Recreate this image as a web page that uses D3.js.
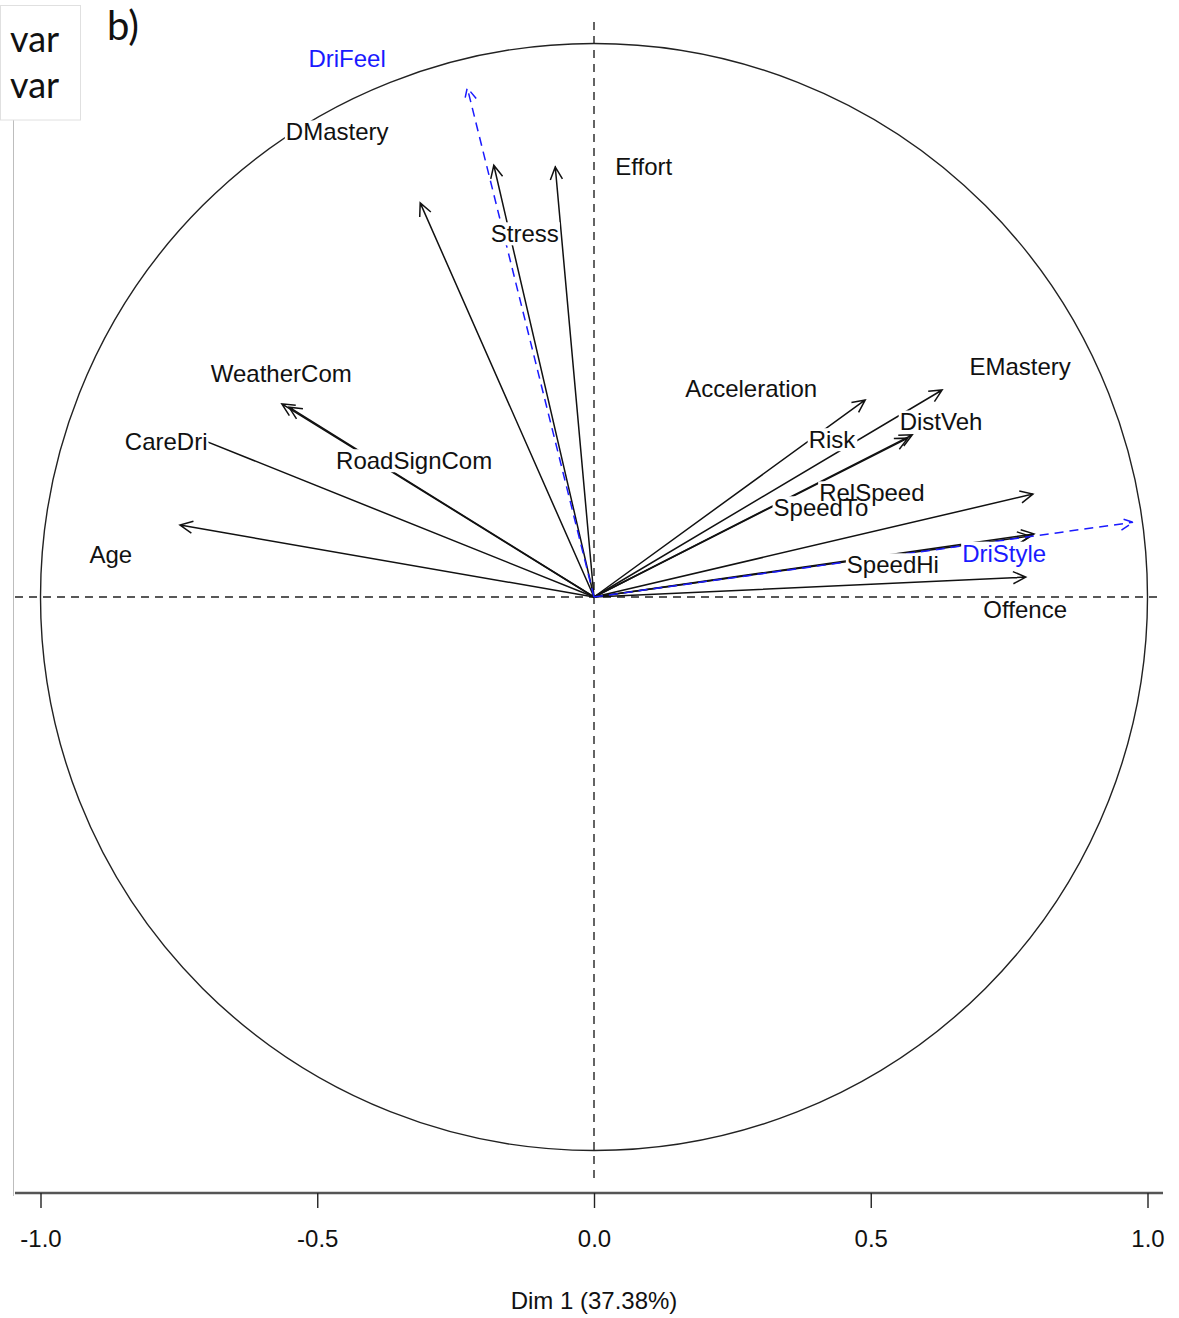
<!DOCTYPE html>
<html>
<head>
<meta charset="utf-8">
<script src="https://cdn.jsdelivr.net/npm/d3@7"></script>
<style>
  html, body { margin: 0; padding: 0; background: #fff; }
  svg { display: block; }
</style>
</head>
<body>
<svg id="chart" width="1179" height="1318"></svg>
<script>
// ---- data (coordinates on Dim 1 / Dim 2, correlation circle) ----
const varNames = ["DMastery","Stress","Effort","WeatherCom","RoadSignCom","CareDri","Age",
  "Acceleration","EMastery","Risk","DistVeh","RelSpeed","SpeedTo","SpeedHi","Offence",
  "DriFeel","DriStyle"];
const dim1 = [-0.314,-0.181,-0.070,-0.564,-0.551,-0.730,-0.748,
  0.490,0.629,0.567,0.575,0.793,0.795,0.788,0.780,
  -0.229,0.974];
const dim2 = [0.712,0.780,0.777,0.349,0.343,0.293,0.130,
  0.356,0.374,0.287,0.293,0.186,0.114,0.110,0.036,
  0.920,0.135];
// label anchor positions (repelled), in the same units
const labelX = [-0.464,-0.125,0.090,-0.565,-0.325,-0.773,-0.873,
  0.284,0.770,0.430,0.627,0.502,0.410,0.540,0.779,
  -0.446,0.741];
const labelY = [0.840,0.656,0.777,0.403,0.246,0.280,0.076,
  0.376,0.416,0.284,0.316,0.188,0.161,0.058,-0.023,
  0.972,0.079];
const varType = ["active","active","active","active","active","active","active",
  "active","active","active","active","active","active","active","active",
  "supp","supp"];
const xTicks = [-1.0,-0.5,0.0,0.5,1.0];
const xTitle = "Dim 1 (37.38%)";
const panelTag = "b)";
const legendLines = ["var","var"];

// ---- drawing ----
const svg = d3.select("#chart");
const x = d3.scaleLinear().domain([-1, 1]).range([40.5, 1147.5]);
const y = d3.scaleLinear().domain([-1, 1]).range([1150.5, 43.5]);
const R = x(1) - x(0);
const labelFont = "'Liberation Sans', Arial, Helvetica, sans-serif";

// frame remnants (left border line, top-left legend box)
svg.append("line").attr("x1", 13.5).attr("x2", 13.5).attr("y1", 120).attr("y2", 1196)
  .attr("stroke", "#bdbdbd").attr("stroke-width", 1);
svg.append("line").attr("x1", 0).attr("x2", 14).attr("y1", 5.5).attr("y2", 5.5)
  .attr("stroke", "#cfcfcf").attr("stroke-width", 1);
svg.append("rect").attr("x", 0.5).attr("y", 5.5).attr("width", 80).attr("height", 114.5)
  .attr("fill", "#fff").attr("stroke", "#e0e0e0").attr("stroke-width", 1);
svg.append("g").selectAll("text").data(legendLines).join("text")
  .attr("x", 10).attr("y", (d, i) => 52 + i * 46)
  .attr("font-family", "Lato, 'Open Sans', sans-serif").attr("font-size", 36)
  .attr("fill", "#111").text(d => d);
svg.append("text").attr("x", 107).attr("y", 40)
  .attr("font-family", "Lato, 'Open Sans', sans-serif").attr("font-size", 40)
  .attr("fill", "#111").text(panelTag);

// reference dashed axes
svg.append("line").attr("x1", x(0)).attr("x2", x(0)).attr("y1", 22).attr("y2", 1180)
  .attr("stroke", "#222").attr("stroke-width", 1.4).attr("stroke-dasharray", "8,6");
svg.append("line").attr("x1", 15).attr("x2", 1160).attr("y1", y(0)).attr("y2", y(0))
  .attr("stroke", "#222").attr("stroke-width", 1.4).attr("stroke-dasharray", "8,6");

// correlation circle
svg.append("circle").attr("cx", x(0)).attr("cy", y(0)).attr("r", R)
  .attr("fill", "none").attr("stroke", "#222").attr("stroke-width", 1.4);

// arrows
const vars = varNames.map((n, i) => ({name: n, d1: dim1[i], d2: dim2[i], lx: labelX[i], ly: labelY[i], type: varType[i]}));
const headLen = 14, headAng = Math.PI / 7;
function arrowPath(d) {
  const x0 = x(0), y0 = y(0), x1 = x(d.d1), y1 = y(d.d2);
  const a = Math.atan2(y1 - y0, x1 - x0);
  const p1 = [x1 - headLen * Math.cos(a - headAng), y1 - headLen * Math.sin(a - headAng)];
  const p2 = [x1 - headLen * Math.cos(a + headAng), y1 - headLen * Math.sin(a + headAng)];
  return `M${x0},${y0}L${x1},${y1}M${p1[0]},${p1[1]}L${x1},${y1}L${p2[0]},${p2[1]}`;
}
svg.append("g").selectAll("path").data(vars).join("path")
  .attr("d", arrowPath)
  .attr("fill", "none")
  .attr("stroke", d => d.type === "supp" ? "#1a1aff" : "#111")
  .attr("stroke-width", 1.5)
  .attr("stroke-dasharray", d => d.type === "supp" ? "9,6" : null);

// labels with white backing
const lg = svg.append("g");
const texts = lg.selectAll("text").data(vars).join("text")
  .attr("x", d => x(d.lx)).attr("y", d => y(d.ly))
  .attr("text-anchor", "middle").attr("dy", "0.35em")
  .attr("font-family", labelFont).attr("font-size", 24)
  .attr("fill", d => d.type === "supp" ? "#1a1aff" : "#111")
  .text(d => d.name);
const boxes = [];
texts.each(function() { boxes.push(this.getBBox()); });
lg.insert("g", ":first-child").selectAll("rect").data(boxes).join("rect")
  .attr("x", b => b.x - 1).attr("y", b => b.y + 2).attr("width", b => b.width + 2).attr("height", b => b.height - 4)
  .attr("fill", "#fff");

// bottom axis
const axisY = 1193;
svg.append("line").attr("x1", 15).attr("x2", 1163).attr("y1", axisY).attr("y2", axisY)
  .attr("stroke", "#555").attr("stroke-width", 2.5);
const fmt = d3.format(".1f");
const ax = svg.append("g").attr("transform", `translate(0,${axisY})`)
  .call(d3.axisBottom(x).tickValues(xTicks).tickFormat(d => fmt(d).replace("\u2212", "-")).tickSize(15).tickPadding(22));
ax.select(".domain").remove();
ax.selectAll(".tick line").attr("stroke", "#222").attr("stroke-width", 1.4);
ax.selectAll(".tick text").attr("font-family", labelFont).attr("font-size", 24).attr("fill", "#111");
svg.append("text").attr("x", x(0)).attr("y", 1309).attr("text-anchor", "middle")
  .attr("font-family", labelFont).attr("font-size", 24).attr("fill", "#111").text(xTitle);
</script>
</body>
</html>
